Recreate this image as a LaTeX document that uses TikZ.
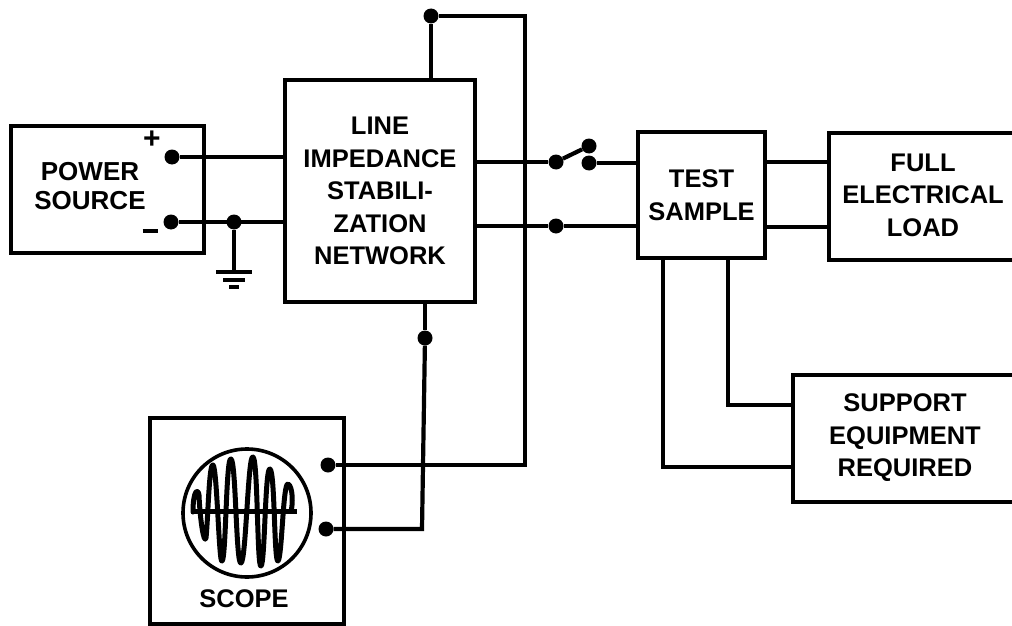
\documentclass[tikz,border=0pt]{standalone}
\usepackage{fontspec}
\setmainfont{Liberation Sans}
\tikzset{
  wire/.style={line width=4.2pt,black,line cap=butt,line join=miter},
  blockbox/.style={draw=black,line width=4.2pt,fill=none,inner sep=0pt,align=center,font=\bfseries\fontsize{25.5}{32.5}\selectfont},
  lbl/.style={inner sep=0pt,align=center,font=\bfseries\fontsize{25.5}{32.5}\selectfont},
  junction/.style={circle,fill=black,draw=none,minimum size=15pt,inner sep=0pt}
}
\begin{document}
\begin{tikzpicture}[x=1pt,y=-1pt]
\useasboundingbox (0,0) rectangle (1012,626);
% blocks
\node[blockbox,minimum width=193pt,minimum height=127pt] (power) at (107.5,189.5) {};
\node[lbl,font=\bfseries\fontsize{26}{29}\selectfont] (powerlbl) at (90,186) {POWER\\SOURCE};
\node[lbl,font=\bfseries\fontsize{30}{30}\selectfont] (plus) at (152,140) {+};
\node[lbl] (minus) at (150,231) {\rule{15pt}{3.5pt}};
\node[blockbox,minimum width=190pt,minimum height=222pt] (lisn) at (380,191) {LINE\\IMPEDANCE\\STABILI-\\ZATION\\NETWORK};
\node[blockbox,minimum width=127pt,minimum height=126pt] (test) at (701.5,195) {TEST\\SAMPLE};
\node[blockbox,minimum width=194pt,minimum height=206pt] (scope) at (247,521) {};
\node[lbl] (scopelbl) at (244,599) {SCOPE};
% open-ended blocks at the right margin
\coordinate (fullTR) at (1012,133);
\coordinate (fullBR) at (1012,260);
\coordinate (fullTL) at (829,133);
\coordinate (fullBL) at (829,260);
\draw[wire] (fullTR) -- (fullTL) -- (fullBL) -- (fullBR);
\node[lbl] (fulllbl) at (923,195) {FULL\\ELECTRICAL\\LOAD};
\coordinate (supTR) at (1012,375);
\coordinate (supBR) at (1012,502);
\coordinate (supTL) at (793,375);
\coordinate (supBL) at (793,502);
\draw[wire] (supTR) -- (supTL) -- (supBL) -- (supBR);
\node[lbl] (suplbl) at (905,438) {SUPPORT\\EQUIPMENT\\REQUIRED};
% junctions
\node[junction] (pp) at (172,157) {};
\node[junction] (pm) at (171,222) {};
\node[junction] (gj) at (234,222) {};
\node[junction] (sw1) at (556,162) {};
\node[junction] (sw2) at (589,146) {};
\node[junction] (sw3) at (589,163) {};
\node[junction] (lo) at (556,226) {};
\node[junction] (top) at (431,16) {};
\node[junction] (bot) at (425,338) {};
\node[junction] (s1) at (328,465) {};
\node[junction] (s2) at (326,529) {};
% power to LISN
\draw[wire] (pp) -- (pp -| lisn.west);
\draw[wire] (pm) -- (pm -| lisn.west);
% ground
\coordinate (gnd) at (234,272);
\draw[wire] (gj) -- (gnd);
\draw[wire] (216,272) -- (252,272);
\draw[wire] (223,280) -- (245,280);
\draw[wire] (229,287) -- (239,287);
% LISN to switch and test sample
\draw[wire] (sw1 -| lisn.east) -- (sw1);
\draw[wire] (sw1) -- (sw2);
\draw[wire] (sw3) -- (sw3 -| test.west);
\draw[wire] (lo -| lisn.east) -- (lo);
\draw[wire] (lo) -- (lo -| test.west);
% LISN top loop to scope
\draw[wire] (top |- lisn.north) -- (top);
\coordinate (tr) at (525,16);
\coordinate (sr) at (525,465);
\draw[wire] (top) -- (tr) -- (sr) -- (s1);
% LISN bottom to scope
\coordinate (sb) at (422,529);
\draw[wire] (bot |- lisn.south) -- (bot);
\draw[wire] (bot) -- (sb) -- (s2);
% test sample to load
\draw[wire] (test.east |- 0,162) -- (fullTL |- 0,162);
\draw[wire] (test.east |- 0,227) -- (fullTL |- 0,227);
% test sample to support equipment
\coordinate (a1) at (728,405);
\coordinate (a2) at (663,467);
\draw[wire] (a1 |- test.south) -- (a1) -- (a1 -| supTL);
\draw[wire] (a2 |- test.south) -- (a2) -- (a2 -| supTL);
% scope screen
\draw[line width=3.6pt] (247,513) circle (64);
\draw[line width=5pt,line join=round,line cap=round]
  (193,512) .. controls (193,490) and (198,488) .. (199,495)
  .. controls (200,520) and (204,545) .. (206,538)
  .. controls (208,520) and (209,463) .. (213,465)
  .. controls (217,467) and (219,565) .. (222,561)
  .. controls (226,561) and (226,455) .. (231,459)
  .. controls (236,461) and (236,566) .. (241,563)
  .. controls (246,562) and (248,453) .. (253,457)
  .. controls (258,460) and (257,569) .. (261,566)
  .. controls (265,564) and (265,466) .. (270,469)
  .. controls (275,472) and (274,563) .. (278,561)
  .. controls (282,558) and (283,482) .. (288,484)
  .. controls (293,486) and (293,505) .. (291,511);
\draw[line width=5pt,line join=round] (193,511) -- (297,511);
\end{tikzpicture}
\end{document}
